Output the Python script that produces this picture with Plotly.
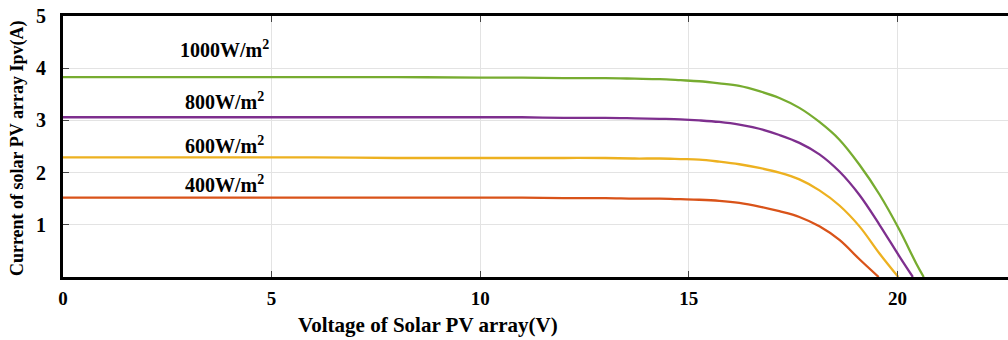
import plotly.graph_objects as go

# Data (Voltage V, Current A)
v_1000 = [0, 2, 4, 6, 8, 10, 11, 12, 13, 13.7, 14.3, 14.8, 15.25, 15.73, 16.21, 16.69,
          17.17, 17.65, 18.13, 18.61, 19.09, 19.57, 20.05, 20.45, 20.63]
i_1000 = [3.83, 3.83, 3.83, 3.83, 3.83, 3.82, 3.82, 3.81, 3.81, 3.80, 3.79, 3.77, 3.75, 3.71, 3.66, 3.56,
          3.43, 3.24, 2.97, 2.63, 2.15, 1.58, 0.90, 0.26, 0]

v_800 = [0, 2, 4, 6, 8, 10, 11, 12, 13, 13.7, 14.3, 14.8, 15.25, 15.73, 16.21, 16.69,
         17.17, 17.65, 18.13, 18.61, 19.09, 19.57, 20.05, 20.37]
i_800 = [3.06, 3.06, 3.06, 3.06, 3.06, 3.06, 3.06, 3.05, 3.05, 3.04, 3.03, 3.02, 3.00, 2.97, 2.92, 2.84,
         2.72, 2.57, 2.35, 2.02, 1.57, 1.00, 0.39, 0]

v_600 = [0, 2, 4, 6, 8, 10, 11, 12, 13, 13.7, 14.3, 14.8, 15.25, 15.73, 16.21, 16.69,
         17.17, 17.65, 18.13, 18.61, 19.09, 19.57, 20.02]
i_600 = [2.29, 2.29, 2.29, 2.29, 2.28, 2.28, 2.28, 2.28, 2.28, 2.27, 2.27, 2.26, 2.25, 2.21, 2.16, 2.09,
         2.00, 1.87, 1.66, 1.37, 0.97, 0.45, 0]

v_400 = [0, 2, 4, 6, 8, 10, 11, 12, 13, 13.7, 14.3, 14.8, 15.25, 15.73, 16.21, 16.69,
         17.17, 17.65, 18.13, 18.61, 19.09, 19.55]
i_400 = [1.52, 1.52, 1.52, 1.52, 1.52, 1.52, 1.52, 1.51, 1.51, 1.50, 1.50, 1.49, 1.48, 1.46, 1.42, 1.35,
         1.26, 1.15, 0.97, 0.71, 0.34, 0]

labels = ["1000W/m<sup>2</sup>", "800W/m<sup>2</sup>", "600W/m<sup>2</sup>", "400W/m<sup>2</sup>"]
label_x = [3.88, 3.88, 3.88, 3.88]
label_y = [4.36, 3.38, 2.53, 1.78]

x_ticks = [0, 5, 10, 15, 20]
y_ticks = [1, 2, 3, 4, 5]

colors = ["#77AC30", "#7E2F8E", "#EDB120", "#D95319"]
FONT = "Liberation Serif"

fig = go.Figure()
for v, i, c in [(v_1000, i_1000, colors[0]), (v_800, i_800, colors[1]),
                (v_600, i_600, colors[2]), (v_400, i_400, colors[3])]:
    fig.add_trace(go.Scatter(x=v, y=i, mode="lines",
                             line=dict(color=c, width=2.3, shape="spline", smoothing=1.0),
                             showlegend=False, hoverinfo="skip"))

for t, lx, ly in zip(labels, label_x, label_y):
    fig.add_annotation(x=lx, y=ly, xref="x", yref="y", text=t, showarrow=False,
                       font=dict(family=FONT, size=20, color="black", weight="bold"),
                       xanchor="center", yanchor="middle")

fig.add_annotation(x=0.386, y=-0.184, xref="paper", yref="paper",
                   text="Voltage of Solar PV array(V)", showarrow=False,
                   font=dict(family=FONT, size=21, color="black", weight="bold"),
                   xanchor="center", yanchor="middle")
fig.add_annotation(x=-0.0487, y=0.494, xref="paper", yref="paper",
                   text="Current of solar PV array Ipv(A)", showarrow=False, textangle=-90,
                   font=dict(family=FONT, size=18, color="black", weight="bold"),
                   xanchor="center", yanchor="middle")

fig.update_layout(
    width=1008, height=340,
    margin=dict(l=63, r=0, t=16, b=63),
    paper_bgcolor="white", plot_bgcolor="white",
    xaxis=dict(range=[0, 22.65], tickvals=x_ticks, ticktext=[str(t) for t in x_ticks],
               showgrid=True, gridcolor="#e3e3e3", gridwidth=1, zeroline=False,
               showline=True, linecolor="black", linewidth=3, mirror="ticks",
               ticks="inside", ticklen=6, tickcolor="#444", tickwidth=1,
               ticklabelstandoff=2,
               tickfont=dict(family=FONT, size=19, color="black", weight="bold")),
    yaxis=dict(range=[0, 5], tickvals=y_ticks, ticktext=[str(t) for t in y_ticks],
               showgrid=True, gridcolor="#e3e3e3", gridwidth=1, zeroline=False,
               showline=True, linecolor="black", linewidth=3,
               ticks="inside", ticklen=6, tickcolor="#444", tickwidth=1,
               ticklabelstandoff=10,
               tickfont=dict(family=FONT, size=20, color="black", weight="bold")),
)

fig.write_html("out.html", config={"displayModeBar": False},
               post_script="document.body.style.margin='0';document.body.style.overflow='hidden';")
